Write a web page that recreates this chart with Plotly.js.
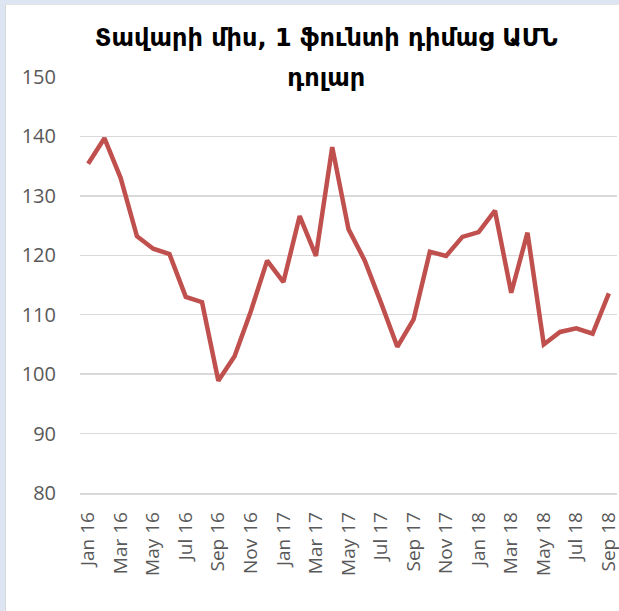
<!DOCTYPE html>
<html>
<head>
<meta charset="utf-8">
<script src="https://cdn.plot.ly/plotly-3.0.1.min.js"></script>
<style>
  html, body { margin: 0; padding: 0; background: #ffffff; }
  #wrap { position: relative; width: 619px; height: 611px; overflow: hidden; }
  #chart { position: absolute; left: 0; top: 0; width: 619px; height: 611px; }
  .edge { position: absolute; pointer-events: none; }
</style>
</head>
<body>
<div id="wrap">
  <div id="chart"></div>
  <div class="edge" style="left:0;top:0;width:5px;height:611px;background:#dce5f1;"></div>
  <div class="edge" style="left:0;top:0;width:619px;height:4px;background:#dce5f1;"></div>
  <div class="edge" style="left:5px;top:4px;width:1px;height:607px;background:#d6d6d6;"></div>
  <div class="edge" style="left:5px;top:4px;width:614px;height:1px;background:#e4e4e4;"></div>
</div>
<script>
// Months (Jan 2016 – Sep 2018)
const months = [
  "Jan 16","Feb 16","Mar 16","Apr 16","May 16","Jun 16","Jul 16","Aug 16","Sep 16","Oct 16","Nov 16","Dec 16",
  "Jan 17","Feb 17","Mar 17","Apr 17","May 17","Jun 17","Jul 17","Aug 17","Sep 17","Oct 17","Nov 17","Dec 17",
  "Jan 18","Feb 18","Mar 18","Apr 18","May 18","Jun 18","Jul 18","Aug 18","Sep 18"
];
// Beef price, US dollars per pound
const beefPrice = [
  135.4, 139.7, 133.0, 123.2, 121.1, 120.2, 113.0, 112.1, 98.9, 103.0, 110.6, 119.1,
  115.5, 126.6, 119.9, 138.2, 124.4, 119.1, 112.0, 104.6, 109.2, 120.6, 119.9, 123.1,
  123.9, 127.5, 113.7, 123.8, 105.0, 107.1, 107.7, 106.8, 113.6
];
// Tick labels shown on the x axis (every second month)
const xTickLabels = ["Jan 16","Mar 16","May 16","Jul 16","Sep 16","Nov 16","Jan 17","Mar 17","May 17",
  "Jul 17","Sep 17","Nov 17","Jan 18","Mar 18","May 18","Jul 18","Sep 18"];
const yTicks = [80, 90, 100, 110, 120, 130, 140, 150];
const titleLine1 = "Տավարի միս, 1 ֆունտի դիմաց ԱՄՆ";
const titleLine2 = "դոլար";

const trace = {
  type: "scatter",
  mode: "lines",
  x: months,
  y: beefPrice,
  line: { color: "#c0504d", width: 4.5, shape: "linear" },
  hoverinfo: "x+y",
  showlegend: false
};

const layout = {
  width: 619,
  height: 611,
  autosize: false,
  paper_bgcolor: "#ffffff",
  plot_bgcolor: "#ffffff",
  margin: { l: 80, r: 2, t: 77, b: 118, pad: 0 },
  title: {
    text: '<span style="font-size:24px">' + titleLine1 + '</span><br><span style="font-size:24px">' + titleLine2 + '</span>',
    font: { family: "'DejaVu Sans', sans-serif", size: 31, color: "#000000", weight: "bold" },
    x: 0.527, xref: "container", xanchor: "center",
    y: 0.925, yref: "container", yanchor: "top"
  },
  xaxis: {
    type: "category",
    range: [-0.5, months.length - 0.5],
    tickmode: "array",
    tickvals: xTickLabels,
    ticktext: xTickLabels,
    tickangle: -90,
    tickfont: { family: "'Open Sans', 'Noto Sans', sans-serif", size: 19, color: "#595959" },
    ticks: "",
    ticklabelstandoff: 10,
    showgrid: false,
    showline: true,
    linecolor: "#d9d9d9",
    linewidth: 1.5,
    zeroline: false,
    fixedrange: true
  },
  yaxis: {
    range: [80, 150],
    tickmode: "array",
    tickvals: yTicks,
    ticktext: yTicks.map(String),
    tickfont: { family: "'Open Sans', 'Noto Sans', sans-serif", size: 20, color: "#595959" },
    ticks: "",
    ticklabelstandoff: 23,
    showgrid: true,
    gridcolor: "#d9d9d9",
    gridwidth: 1.5,
    showline: false,
    zeroline: false,
    fixedrange: true
  }
};

Plotly.newPlot("chart", [trace], layout, { displayModeBar: false, staticPlot: true });
</script>
</body>
</html>
